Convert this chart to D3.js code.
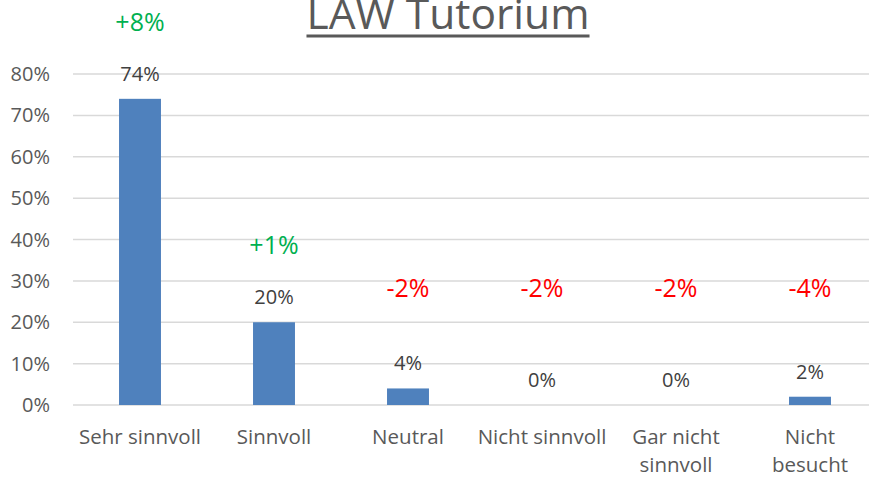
<html><head>
<title>LAW Tutorium</title>
<script src="https://d3js.org/d3.v7.min.js"></script>
<style>
  body { margin: 0; background: #fff; }
  text { font-family: "Open Sans", sans-serif; }
</style>
</head>
<body>
<svg id="chart" width="869" height="478"></svg>
<script>
  const categories = [["Sehr sinnvoll"], ["Sinnvoll"], ["Neutral"], ["Nicht sinnvoll"], ["Gar nicht", "sinnvoll"], ["Nicht", "besucht"]];
  const values = [0.74, 0.20, 0.04, 0.00, 0.00, 0.02];
  const deltas = ["+8%", "+1%", "-2%", "-2%", "-2%", "-4%"];
  const yTicks = [0, 0.1, 0.2, 0.3, 0.4, 0.5, 0.6, 0.7, 0.8];

  const svg = d3.select("svg#chart");
  const margin = { top: 74, left: 73, bottom: 73 };
  const plotRight = 877;
  const plotBottom = 478 - margin.bottom;

  const x = d3.scaleBand()
              .domain(d3.range(categories.length))
              .range([margin.left, plotRight])
              .paddingInner(0.687)
              .paddingOuter(0.3435);
  const y = d3.scaleLinear().domain([0, 0.8]).range([plotBottom, margin.top]);

  // gridlines
  svg.append("g").selectAll("line").data(yTicks)
     .join("line")
     .attr("x1", margin.left).attr("x2", plotRight)
     .attr("y1", d => y(d)).attr("y2", d => y(d))
     .attr("stroke", "#d9d9d9").attr("stroke-width", 1.5);

  // y axis labels
  svg.append("g").selectAll("text").data(yTicks)
     .join("text")
     .attr("x", 50).attr("y", d => y(d) + 7)
     .attr("text-anchor", "end")
     .attr("font-size", 20).attr("fill", "#595959")
     .text(d3.format(".0%"));

  // bars
  svg.append("g").selectAll("rect").data(values)
     .join("rect")
     .attr("x", (d, i) => x(i))
     .attr("width", x.bandwidth())
     .attr("y", d => y(d))
     .attr("height", d => y(0) - y(d))
     .attr("fill", "#4f81bd");

  // value labels
  svg.append("g").selectAll("text").data(values)
     .join("text")
     .attr("x", (d, i) => x(i) + x.bandwidth() / 2)
     .attr("y", d => y(d) - 18)
     .attr("text-anchor", "middle")
     .attr("font-size", 20).attr("fill", "#404040")
     .text(d3.format(".0%"));

  // change annotations
  svg.append("g").selectAll("text").data(deltas)
     .join("text")
     .attr("x", (d, i) => x(i) + x.bandwidth() / 2)
     .attr("y", (d, i) => Math.min(y(values[i]) - 68, y(0.262)))
     .attr("text-anchor", "middle")
     .attr("font-size", 25)
     .attr("fill", d => d.startsWith("+") ? "#00b050" : "#ff0000")
     .text(d => d);

  // category labels
  const cat = svg.append("g").selectAll("text").data(categories)
     .join("text")
     .attr("text-anchor", "middle")
     .attr("font-size", 20.5).attr("fill", "#595959");
  cat.selectAll("tspan").data((d, i) => d.map(s => ({ s: s, i: i })))
     .join("tspan")
     .attr("x", d => x(d.i) + x.bandwidth() / 2)
     .attr("y", (d, j) => plotBottom + 39 + j * 28)
     .text(d => d.s);

  // title
  const title = svg.append("text")
     .attr("x", 448).attr("y", 29)
     .attr("text-anchor", "middle")
     .attr("font-size", 42.5).attr("fill", "#595959")
     .text("LAW Tutorium");
  const bb = title.node().getBBox();
  svg.append("line")
     .attr("x1", bb.x).attr("x2", bb.x + bb.width)
     .attr("y1", 36).attr("y2", 36)
     .attr("stroke", "#595959").attr("stroke-width", 3);
</script>
</body>
</html>
